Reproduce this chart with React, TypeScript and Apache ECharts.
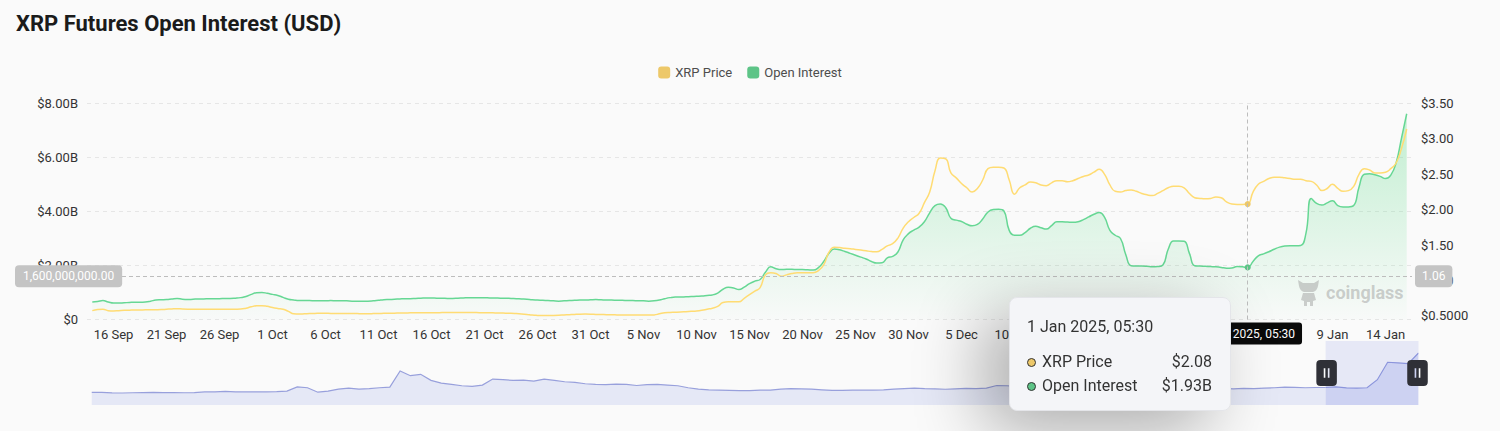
import React, { useEffect, useRef } from 'react';
import * as echarts from 'echarts';

const TITLE = 'XRP Futures Open Interest (USD)';
const SERIES_NAMES = ['XRP Price', 'Open Interest'];
const PRICE_COLOR = '#EDC869';
const OI_COLOR = '#5DC487';

// XRP price (USD), every 12 hours, 14 Sep 2024 00:00 UTC -> 16 Jan 2025 00:00 UTC
const xrpPrice = [
  0.575, 0.590, 0.595, 0.575, 0.570, 0.575, 0.580, 0.582, 0.584, 0.585,
  0.586, 0.587, 0.588, 0.590, 0.595, 0.600, 0.603, 0.598, 0.595, 0.594,
  0.594, 0.594, 0.593, 0.593, 0.593, 0.594, 0.595, 0.596, 0.598, 0.610,
  0.630, 0.643, 0.645, 0.636, 0.618, 0.605, 0.595, 0.565, 0.530, 0.527,
  0.530, 0.535, 0.536, 0.537, 0.537, 0.536, 0.536, 0.535, 0.535, 0.534,
  0.533, 0.532, 0.532, 0.533, 0.535, 0.537, 0.539, 0.540, 0.542, 0.543,
  0.544, 0.545, 0.546, 0.545, 0.544, 0.545, 0.548, 0.549, 0.549, 0.549,
  0.549, 0.549, 0.548, 0.547, 0.546, 0.545, 0.543, 0.541, 0.540, 0.538,
  0.533, 0.527, 0.520, 0.512, 0.508, 0.506, 0.505, 0.507, 0.510, 0.514,
  0.518, 0.522, 0.525, 0.526, 0.525, 0.522, 0.520, 0.518, 0.516, 0.515,
  0.514, 0.513, 0.513, 0.512, 0.512, 0.513, 0.515, 0.530, 0.545, 0.550,
  0.552, 0.555, 0.560, 0.565, 0.570, 0.580, 0.595, 0.610, 0.635, 0.690,
  0.700, 0.700, 0.700, 0.750, 0.800, 0.850, 0.900, 1.080, 1.110, 1.100,
  1.060, 1.080, 1.100, 1.110, 1.110, 1.110, 1.110, 1.140, 1.220, 1.400,
  1.470, 1.465, 1.455, 1.450, 1.440, 1.430, 1.420, 1.410, 1.405, 1.440,
  1.490, 1.520, 1.600, 1.740, 1.830, 1.890, 1.950, 2.100, 2.250, 2.550,
  2.730, 2.720, 2.520, 2.450, 2.370, 2.310, 2.250, 2.300, 2.420, 2.580,
  2.600, 2.600, 2.590, 2.420, 2.220, 2.310, 2.350, 2.390, 2.380, 2.350,
  2.340, 2.380, 2.410, 2.410, 2.395, 2.410, 2.440, 2.470, 2.490, 2.530,
  2.570, 2.500, 2.350, 2.260, 2.250, 2.270, 2.280, 2.260, 2.230, 2.210,
  2.200, 2.230, 2.270, 2.310, 2.330, 2.330, 2.310, 2.230, 2.170, 2.160,
  2.155, 2.160, 2.180, 2.170, 2.110, 2.080, 2.075, 2.075, 2.080, 2.250,
  2.360, 2.400, 2.440, 2.460, 2.460, 2.450, 2.440, 2.430, 2.430, 2.410,
  2.400, 2.350, 2.270, 2.300, 2.360, 2.300, 2.260, 2.270, 2.330, 2.500,
  2.580, 2.560, 2.520, 2.520, 2.530, 2.580, 2.660, 2.860, 3.140,
];

// Open interest (billion USD), same 12-hour samples
const openInterestB = [
  0.65, 0.67, 0.70, 0.65, 0.61, 0.61, 0.62, 0.63, 0.64, 0.64,
  0.65, 0.68, 0.72, 0.73, 0.74, 0.76, 0.78, 0.75, 0.74, 0.75,
  0.76, 0.76, 0.77, 0.77, 0.77, 0.78, 0.78, 0.79, 0.81, 0.85,
  0.93, 0.99, 1.00, 0.97, 0.93, 0.89, 0.82, 0.75, 0.72, 0.70,
  0.70, 0.70, 0.69, 0.69, 0.69, 0.70, 0.69, 0.69, 0.69, 0.68,
  0.68, 0.68, 0.68, 0.69, 0.71, 0.73, 0.74, 0.75, 0.76, 0.77,
  0.77, 0.78, 0.79, 0.80, 0.80, 0.79, 0.79, 0.78, 0.78, 0.79,
  0.80, 0.81, 0.81, 0.81, 0.81, 0.80, 0.80, 0.79, 0.79, 0.78,
  0.77, 0.76, 0.75, 0.73, 0.72, 0.71, 0.70, 0.69, 0.68, 0.69,
  0.70, 0.71, 0.72, 0.72, 0.73, 0.74, 0.73, 0.72, 0.72, 0.71,
  0.71, 0.70, 0.70, 0.69, 0.69, 0.68, 0.69, 0.72, 0.77, 0.81,
  0.83, 0.83, 0.84, 0.85, 0.86, 0.87, 0.89, 0.91, 0.98, 1.12,
  1.19, 1.17, 1.11, 1.20, 1.33, 1.42, 1.48, 1.75, 1.95, 1.88,
  1.85, 1.86, 1.86, 1.85, 1.85, 1.84, 1.83, 1.92, 2.15, 2.45,
  2.61, 2.58, 2.52, 2.45, 2.38, 2.31, 2.24, 2.15, 2.09, 2.10,
  2.28, 2.34, 2.50, 2.95, 3.18, 3.31, 3.42, 3.62, 3.95, 4.22,
  4.28, 4.15, 3.75, 3.68, 3.63, 3.53, 3.47, 3.52, 3.72, 3.98,
  4.07, 4.08, 4.02, 3.30, 3.12, 3.12, 3.22, 3.38, 3.45, 3.40,
  3.35, 3.48, 3.62, 3.62, 3.61, 3.60, 3.62, 3.70, 3.80, 3.90,
  3.96, 3.78, 3.30, 3.12, 3.00, 2.40, 1.99, 1.98, 1.98, 1.97,
  1.95, 1.96, 2.02, 2.60, 2.91, 2.91, 2.90, 2.45, 1.99, 1.98,
  1.97, 1.96, 1.95, 1.93, 1.90, 1.91, 1.96, 1.95, 1.93, 2.15,
  2.36, 2.43, 2.51, 2.60, 2.68, 2.72, 2.73, 2.73, 2.74, 3.20,
  4.48, 4.30, 4.24, 4.32, 4.40, 4.22, 4.17, 4.17, 4.22, 4.90,
  5.38, 5.40, 5.36, 5.30, 5.22, 5.35, 5.80, 6.70, 7.62,
];

// XRP price history (USD), every two weeks from 6 Feb 2020, shown in the zoom slider
const priceHistory = [
  0.21, 0.20, 0.17, 0.16, 0.18, 0.19, 0.20, 0.19, 0.19, 0.18,
  0.19, 0.24, 0.25, 0.28, 0.25, 0.24, 0.25, 0.24, 0.26, 0.30,
  0.62, 0.55, 0.22, 0.30, 0.45, 0.52, 0.45, 0.48, 0.55, 0.60,
  1.80, 1.45, 1.55, 1.10, 0.90, 0.80, 0.70, 0.65, 0.75, 1.20,
  1.15, 1.10, 1.12, 1.05, 1.20, 1.10, 1.00, 0.95, 0.85, 0.80,
  0.78, 0.82, 0.80, 0.72, 0.78, 0.80, 0.75, 0.70, 0.55, 0.45,
  0.40, 0.38, 0.35, 0.33, 0.34, 0.37, 0.38, 0.45, 0.48, 0.47,
  0.45, 0.40, 0.36, 0.35, 0.38, 0.37, 0.37, 0.40, 0.45, 0.48,
  0.52, 0.48, 0.46, 0.44, 0.47, 0.50, 0.48, 0.52, 0.72, 0.70,
  0.64, 0.60, 0.52, 0.50, 0.52, 0.55, 0.62, 0.63, 0.60, 0.62,
  0.55, 0.52, 0.52, 0.55, 0.60, 0.62, 0.52, 0.50, 0.52, 0.48,
  0.50, 0.47, 0.50, 0.48, 0.52, 0.55, 0.60, 0.58, 0.55, 0.57,
  0.58, 0.62, 0.54, 0.53, 0.55, 1.15, 2.45, 2.40, 2.35, 3.14,
];

const MONTHS = ['Jan', 'Feb', 'Mar', 'Apr', 'May', 'Jun', 'Jul', 'Aug', 'Sep', 'Oct', 'Nov', 'Dec'];
const pad2 = (n: number) => (n < 10 ? '0' + n : '' + n);
const fmtIST = (ms: number) => {
  const d = new Date(ms + 5.5 * 3600e3);
  return `${d.getUTCDate()} ${MONTHS[d.getUTCMonth()]} ${d.getUTCFullYear()}, ${pad2(d.getUTCHours())}:${pad2(d.getUTCMinutes())}`;
};
const HALF_DAY = 12 * 3600e3;
const CAT_START = Date.UTC(2024, 8, 13, 12);
const categories = Array.from({ length: xrpPrice.length + 2 }, (_, j) => fmtIST(CAT_START + j * HALF_DAY));
const HIST_START = Date.UTC(2020, 1, 6);
const historyDates = priceHistory.map((_, k) => fmtIST(HIST_START + k * 14 * 24 * 3600e3));

const LOGO_PATH =
  'M2 1 L7 4 L18 4 L23 1 L22 7 Q21 12 17 13 L8 13 Q4 12 3 7 Z M7 14 L18 14 L20 21 L17 22 L17 27 L14 27 L14 23 L11 23 L11 27 L8 27 L8 22 L5 21 Z';
echarts.graphic.registerShape('cgLogo', echarts.graphic.extendPath(LOGO_PATH, {}));

const HANDLE_ICON =
  'path://M3,0 L12,0 Q15,0 15,3 L15,16 Q15,19 12,19 L3,19 Q0,19 0,16 L0,3 Q0,0 3,0 Z M5.4,6 L5.4,13 L6.6,13 L6.6,6 Z M8.4,6 L8.4,13 L9.6,13 L9.6,6 Z';

const GRID_LEFT = 72;
const GRID_RIGHT = 73;
const GRID_TOP = 103.5;
const GRID_BOTTOM = 111.5;
const TIP_INDEX = 219;
const TIP_X = GRID_LEFT + (TIP_INDEX * (1470 - GRID_LEFT - GRID_RIGHT)) / (categories.length - 1);
const TIP_Y = GRID_TOP + (431 - GRID_TOP - GRID_BOTTOM) * 0.8;

const fmtLeft = (v: number) => (v === 0 ? '$0' : '$' + (v / 1e9).toFixed(2) + 'B');
const fmtRight = (v: number) => (v < 1 ? '$' + v.toFixed(4) : '$' + v.toFixed(2));

const tooltipFormatter = (params: any) => {
  const ps = Array.isArray(params) ? params : [params];
  const title = ps[0].axisValueLabel || ps[0].axisValue;
  const rows = ps
    .map((p: any) => {
      const v = Number(p.value);
      const txt = p.seriesName === 'XRP Price' ? '$' + v.toFixed(2) : '$' + (v / 1e9).toFixed(2) + 'B';
      return `<div style="display:flex;align-items:center;height:24px;">
        <span style="display:inline-block;width:7px;height:7px;border-radius:50%;background:${p.color};border:1px solid #333;margin-right:6px;"></span>
        <span style="flex:1;">${p.seriesName}</span><span>${txt}</span></div>`;
    })
    .join('');
  return `<div style="padding:19px 18px 0 17px;font-family:Roboto;font-size:16px;color:#333;line-height:20px;">
    <div style="height:20px;">${title}</div><div style="height:13px;"></div>${rows}</div>`;
};

export default function App() {
  const ref = useRef<HTMLDivElement>(null);
  useEffect(() => {
    document.body.style.margin = '0';
    document.body.style.background = '#fafafa';
    const chart = echarts.init(ref.current as HTMLDivElement, null, { renderer: 'svg' });
    const option: any = {
      animation: false,
      backgroundColor: 'transparent',
      textStyle: { fontFamily: 'Roboto' },
      title: {
        text: TITLE,
        left: 1,
        top: 12,
        padding: 0,
        textStyle: { fontSize: 22, fontWeight: 'bold', color: '#1b1b1b', fontFamily: 'Roboto' },
      },
      legend: {
        data: SERIES_NAMES,
        top: 61,
        left: 'center',
        icon: 'roundRect',
        itemWidth: 12,
        itemHeight: 12,
        itemGap: 15,
        textStyle: { color: '#4d4d4d', fontSize: 13 },
      },
      grid: [
        { left: GRID_LEFT, right: GRID_RIGHT, top: GRID_TOP, bottom: GRID_BOTTOM, outerBoundsMode: 'none' },
        { left: 74, right: 69, top: 341, height: 64, outerBoundsMode: 'none' },
      ],
      tooltip: {
        trigger: 'axis',
        triggerOn: 'none',
        alwaysShowContent: true,
        showDelay: 0,
        transitionDuration: 0,
        position: [994.3, 297.3],
        padding: 0,
        borderWidth: 1,
        borderColor: '#e4e5e9',
        backgroundColor: '#f4f5f8',
        extraCssText:
          'border-radius:8px;box-shadow:-24px 18px 70px rgba(0,0,0,0.32);width:222px;height:114px;box-sizing:border-box;',
        axisPointer: {
          type: 'cross',
          lineStyle: { color: '#bdbdbd', type: [4, 3], width: 1 },
          crossStyle: { color: '#bdbdbd', type: [4, 3], width: 1 },
        },
        formatter: tooltipFormatter,
      },
      xAxis: [
        {
          type: 'category',
          gridIndex: 0,
          data: categories,
          boundaryGap: false,
          axisLine: { show: false },
          axisTick: { show: false },
          axisLabel: {
            interval: (i: number) => i % 10 === 5,
            formatter: (v: string) => v.split(' ').slice(0, 2).join(' '),
            color: '#333',
            fontSize: 13,
            margin: 8,
          },
          axisPointer: {
            label: { backgroundColor: '#0a0a0a', color: '#fff', fontSize: 12, padding: [5, 7, 5, 7], borderRadius: 3 },
          },
        },
        { type: 'category', gridIndex: 1, data: historyDates, show: false, boundaryGap: false },
      ],
      yAxis: [
        {
          type: 'value',
          gridIndex: 0,
          position: 'left',
          min: 0,
          max: 8e9,
          axisLine: { show: false },
          axisTick: { show: false },
          axisLabel: { formatter: fmtLeft, color: '#333', fontSize: 13, margin: 9 },
          splitLine: { lineStyle: { color: '#e6e6e6', type: [4, 4] } },
          axisPointer: {
            label: {
              formatter: (p: any) =>
                Number(p.value).toLocaleString('en-US', { minimumFractionDigits: 2, maximumFractionDigits: 2 }),
              backgroundColor: '#c4c4c4',
              color: '#fff',
              fontSize: 12,
              padding: [5, 8, 5, 8],
              borderRadius: 4,
            },
          },
        },
        {
          type: 'value',
          gridIndex: 0,
          position: 'right',
          min: 0.45,
          max: 3.5,
          axisLine: { show: false },
          axisTick: { show: false },
          splitLine: { show: false },
          axisLabel: { formatter: fmtRight, color: '#333', fontSize: 13, margin: 9, showMinLabel: false },
          axisPointer: {
            label: {
              formatter: (p: any) => Number(p.value).toFixed(2),
              backgroundColor: '#c4c4c4',
              color: '#fff',
              fontSize: 12,
              padding: [5, 7, 5, 7],
              borderRadius: 4,
            },
          },
        },
        { type: 'value', gridIndex: 1, show: false, scale: true },
      ],
      dataZoom: [
        {
          type: 'slider',
          xAxisIndex: 1,
          filterMode: 'none',
          start: 93,
          end: 100,
          left: 74,
          right: 69,
          top: 341,
          height: 64,
          showDetail: false,
          brushSelect: false,
          moveHandleSize: 0,
          zoomLock: true,
          backgroundColor: 'rgba(0,0,0,0)',
          borderColor: 'rgba(0,0,0,0)',
          fillerColor: 'rgba(128,142,228,0.16)',
          handleIcon: HANDLE_ICON,
          handleSize: 26,
          handleStyle: { color: '#2f3037', borderColor: '#2f3037', borderWidth: 0 },
          dataBackground: {
            lineStyle: { color: '#98a0dc', width: 1.2, opacity: 1 },
            areaStyle: { color: '#e5e8f6', opacity: 1 },
          },
          selectedDataBackground: {
            lineStyle: { color: '#8d96da', width: 1.2, opacity: 1 },
            areaStyle: { color: '#dcdff5', opacity: 1 },
          },
        },
      ],
      series: [
        {
          name: 'XRP Price',
          type: 'line',
          xAxisIndex: 0,
          yAxisIndex: 1,
          data: [null, ...xrpPrice, null],
          smooth: true,
          showSymbol: false,
          symbol: 'circle',
          symbolSize: 5,
          lineStyle: { color: PRICE_COLOR, width: 1.5 },
          itemStyle: { color: PRICE_COLOR },
          z: 3,
        },
        {
          name: 'Open Interest',
          type: 'line',
          xAxisIndex: 0,
          yAxisIndex: 0,
          data: [null, ...openInterestB.map((v) => v * 1e9), null],
          smooth: true,
          showSymbol: false,
          symbol: 'circle',
          symbolSize: 5,
          lineStyle: { color: OI_COLOR, width: 1.5 },
          itemStyle: { color: OI_COLOR },
          areaStyle: {
            color: new echarts.graphic.LinearGradient(0, 0, 0, 1, [
              { offset: 0, color: 'rgba(94,200,130,0.55)' },
              { offset: 1, color: 'rgba(94,200,130,0.02)' },
            ]),
          },
          z: 2,
        },
        {
          name: 'XRP Price history',
          type: 'line',
          xAxisIndex: 1,
          yAxisIndex: 2,
          data: priceHistory,
          showSymbol: false,
          silent: true,
          lineStyle: { opacity: 0 },
          tooltip: { show: false },
          emphasis: { disabled: true },
          z: 0,
        },
      ],
      graphic: [
        {
          type: 'cgLogo',
          x: 1281,
          y: 279,
          silent: true,
          z: 50,
          style: { fill: 'rgba(150,150,150,0.45)' },
        },
        {
          type: 'text',
          x: 1311,
          y: 292,
          silent: true,
          z: 50,
          style: {
            text: 'coinglass',
            fill: 'rgba(150,150,150,0.45)',
            fontSize: 18,
            fontWeight: 'bold',
            fontFamily: 'Roboto',
            verticalAlign: 'middle',
            align: 'left',
          },
        },
      ],
    };
    chart.setOption(option);
    const show = () => chart.dispatchAction({ type: 'showTip', x: TIP_X, y: TIP_Y });
    show();
    const t = setTimeout(show, 60);
    return () => {
      clearTimeout(t);
      chart.dispose();
    };
  }, []);
  return (
    <div style={{ position: 'fixed', left: 0, top: 0, width: 1500, height: 431, background: '#fafafa' }}>
      <div ref={ref} style={{ position: 'absolute', left: 15, top: 0, width: 1470, height: 431 }} />
    </div>
  );
}
